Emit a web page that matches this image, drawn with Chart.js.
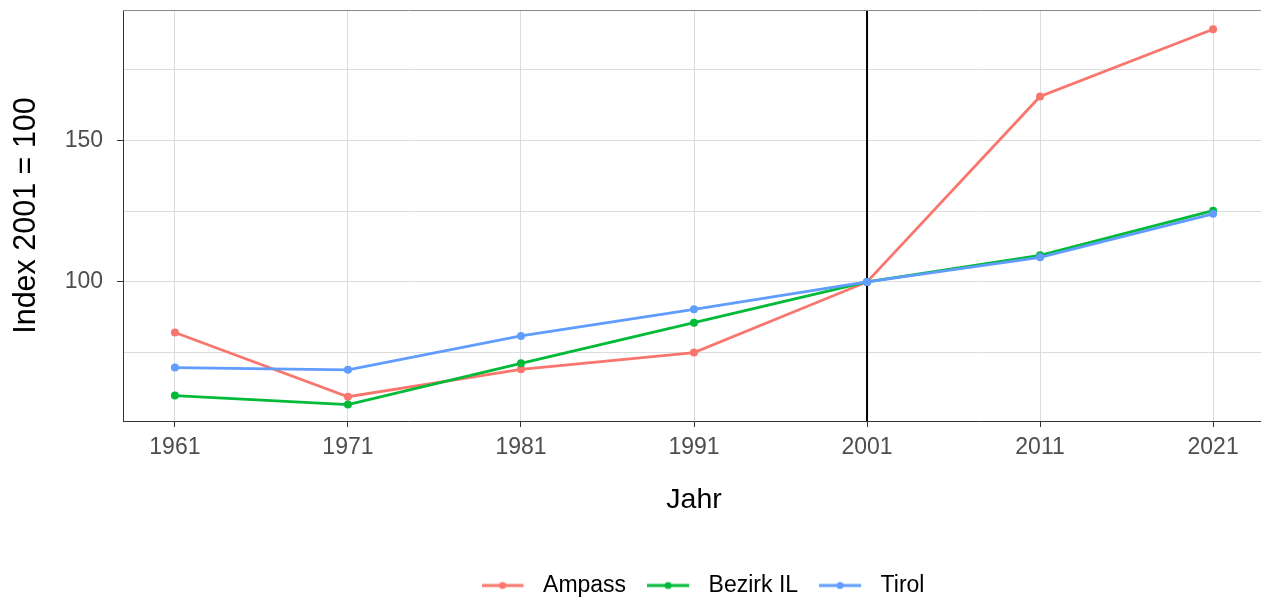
<!DOCTYPE html>
<html>
<head>
<meta charset="utf-8">
<script src="https://cdn.jsdelivr.net/npm/chart.js@4/dist/chart.umd.min.js"></script>
<style>
html, body { margin: 0; padding: 0; background: #fff; overflow: hidden; }
#wrap { width: 1261px; height: 598px; overflow: hidden; }
</style>
</head>
<body>
<div id="wrap"><canvas id="indexChart" width="1406" height="607"></canvas></div>
<script>
// values (index, 2001 = 100)
const years = [1961, 1971, 1981, 1991, 2001, 2011, 2021];
const ampass = [82.1, 59.4, 69.1, 75.0, 100, 165.6, 189.4];
const bezirkIL = [59.8, 56.6, 71.2, 85.6, 100, 109.4, 125.2];
const tirol = [69.7, 68.9, 80.9, 90.3, 100, 108.7, 124.1];

const seriesNames = ['Ampass', 'Bezirk IL', 'Tirol'];
const seriesValues = [ampass, bezirkIL, tirol];
const colors = ['#F8766D', '#00BA38', '#619CFF'];

const yTicks = [75, 100, 125, 150, 175];
const yLabelled = [100, 150];
const refYear = 2001;

const FONT = '"Liberation Sans", Arial, sans-serif';

// legend icon: short line with a dot in the middle
function legendIcon(color) {
    const c = document.createElement('canvas');
    c.width = 50;
    c.height = 12;
    const g = c.getContext('2d');
    g.strokeStyle = color;
    g.lineWidth = 3;
    g.beginPath();
    g.moveTo(0, 6);
    g.lineTo(42, 6);
    g.stroke();
    g.fillStyle = color;
    g.beginPath();
    g.arc(21, 6, 3.5, 0, Math.PI * 2);
    g.fill();
    return c;
}
const icons = colors.map(legendIcon);

const datasets = seriesNames.map((name, i) => ({
    label: name,
    data: years.map((yr, j) => ({ x: yr, y: seriesValues[i][j] })),
    borderColor: colors[i],
    backgroundColor: colors[i],
    borderWidth: 2.8,
    pointRadius: 4,
    pointBorderWidth: 0,
    tension: 0,
    order: seriesNames.length - i,
    yAxisID: 'y'
}));

const frame = {
    id: 'frame',
    beforeDatasetsDraw(chart) {
        const { ctx, chartArea: a, scales } = chart;
        const x = scales.x.getPixelForValue(refYear);
        ctx.save();
        ctx.strokeStyle = '#000';
        ctx.lineWidth = 2;
        ctx.beginPath();
        ctx.moveTo(x, a.top);
        ctx.lineTo(x, a.bottom);
        ctx.stroke();
        ctx.restore();
    },
    afterDatasetsDraw(chart) {
        const { ctx, chartArea: a } = chart;
        ctx.save();
        ctx.strokeStyle = '#8a8a8a';
        ctx.lineWidth = 1;
        ctx.beginPath();
        ctx.moveTo(a.left, a.top + 0.5);
        ctx.lineTo(a.right, a.top + 0.5);
        ctx.moveTo(a.right - 0.5, a.top);
        ctx.lineTo(a.right - 0.5, a.bottom);
        ctx.stroke();
        ctx.restore();
    }
};

new Chart(document.getElementById('indexChart'), {
    type: 'line',
    data: { datasets: datasets },
    options: {
        responsive: false,
        animation: false,
        devicePixelRatio: 1,
        layout: { padding: { top: 10, left: 0, right: 0, bottom: 0 } },
        plugins: {
            tooltip: { enabled: false },
            legend: {
                display: true,
                position: 'bottom',
                labels: {
                    usePointStyle: true,
                    pointStyleWidth: 50,
                    padding: 21,
                    color: '#000',
                    font: { family: FONT, size: 23 },
                    generateLabels: (chart) => chart.data.datasets.map((ds, i) => ({
                        text: ds.label,
                        fillStyle: ds.borderColor,
                        strokeStyle: ds.borderColor,
                        lineWidth: 0,
                        pointStyle: icons[i],
                        fontColor: '#000',
                        hidden: false,
                        datasetIndex: i
                    }))
                }
            }
        },
        scales: {
            x: {
                type: 'linear',
                min: 1958,
                max: 2024,
                afterBuildTicks: (s) => { s.ticks = years.map(v => ({ value: v })); },
                afterFit: (s) => { s.height = 132; s.paddingLeft = 0; s.paddingRight = 0; },
                grid: { color: '#dcdcdc', lineWidth: 1, tickLength: 6, tickColor: '#333' },
                border: { color: '#333', width: 1 },
                ticks: {
                    padding: 7,
                    color: '#4d4d4d',
                    font: { family: FONT, size: 23 },
                    maxRotation: 0,
                    callback: (v) => String(v)
                },
                title: {
                    display: true,
                    text: 'Jahr',
                    color: '#000',
                    font: { family: FONT, size: 28.5 },
                    padding: { top: 0, bottom: 36 }
                }
            },
            y: {
                type: 'linear',
                position: 'left',
                min: 50.8,
                max: 196.2,
                afterBuildTicks: (s) => { s.ticks = yTicks.map(v => ({ value: v })); },
                afterFit: (s) => { s.width = 123; s.paddingTop = 0; s.paddingBottom = 0; },
                grid: {
                    color: '#dcdcdc',
                    lineWidth: 1,
                    tickLength: 6,
                    tickColor: (c) => yLabelled.includes(c.tick && c.tick.value) ? '#333' : 'rgba(0,0,0,0)'
                },
                border: { color: '#333', width: 1 },
                ticks: {
                    padding: 14,
                    color: '#4d4d4d',
                    font: { family: FONT, size: 23 },
                    callback: (v) => yLabelled.includes(v) ? String(v) : ''
                },
                title: {
                    display: true,
                    text: 'Index 2001 = 100',
                    color: '#000',
                    font: { family: FONT, size: 30.5 },
                    padding: { top: 8, bottom: 0 }
                }
            },
            spacer: {
                type: 'linear',
                position: 'right',
                display: true,
                afterFit: (s) => { s.width = 141; s.paddingTop = 0; s.paddingBottom = 0; },
                grid: { display: false, drawTicks: false },
                border: { display: false },
                ticks: { display: false },
                title: { display: false }
            }
        }
    },
    plugins: [frame]
});
</script>
</body>
</html>
